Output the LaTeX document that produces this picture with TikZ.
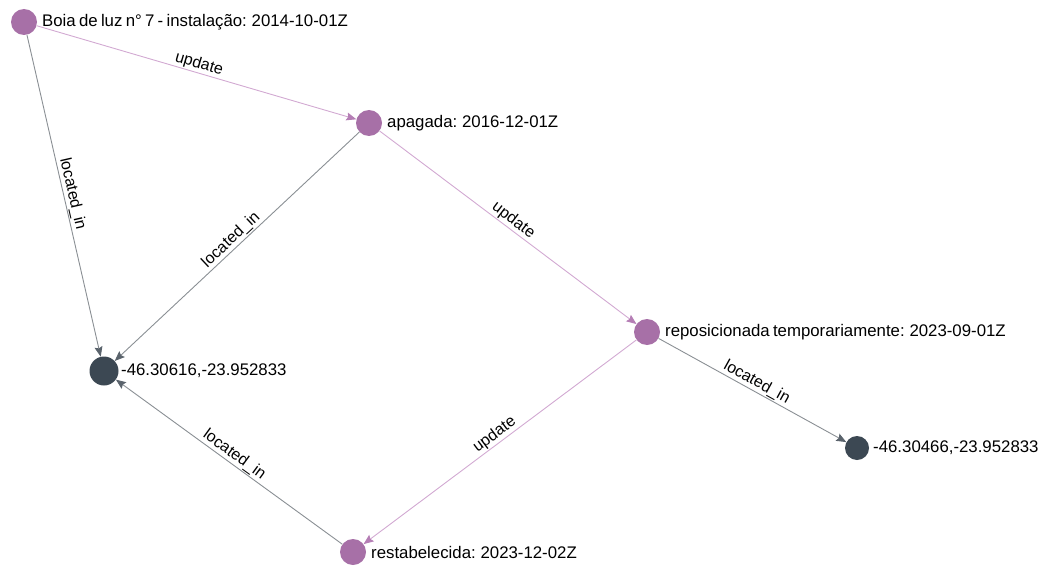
\documentclass[tikz,border=0pt]{standalone}
\usepackage{fontspec}
\setmainfont[WordSpace=0.7]{Liberation Sans}
\usetikzlibrary{arrows.meta}
\definecolor{evt}{HTML}{A770A7}
\definecolor{loc}{HTML}{3C4853}
\definecolor{updline}{HTML}{D2A9D2}
\definecolor{updtip}{HTML}{B57EB5}
\definecolor{locline}{HTML}{8A8F94}
\definecolor{loctip}{HTML}{5A636C}
\tikzset{
  event/.style={circle, fill=evt, minimum size=26pt, inner sep=0pt},
  place/.style={circle, fill=loc, minimum size=26pt, inner sep=0pt},
  nodetext/.style={anchor=west, inner sep=0pt, font=\fontsize{16.8}{19}\selectfont},
  updedge/.style={draw=updline, line width=0.9pt,
    -{Stealth[length=10pt, width=8pt, inset=1.5pt, color=updtip]}},
  locedge/.style={draw=locline, line width=0.9pt,
    -{Stealth[length=10pt, width=8pt, inset=1.5pt, color=loctip]}},
  elabel/.style={midway, sloped, above, inner sep=1pt, font=\fontsize{16}{19}\selectfont}
}
\begin{document}
\begin{tikzpicture}[x=1pt, y=-1pt]
  \useasboundingbox (0,0) rectangle (1048,567);

  % event nodes
  \node[event] (boia) at (24,22) {};
  \node[event] (apag) at (369,123) {};
  \node[event] (repo) at (647,332) {};
  \node[event] (rest) at (353,552) {};
  % location nodes
  \node[place, minimum size=29pt] (p1) at (104,371) {};
  \node[place, minimum size=24pt] (p2) at (857,448) {};

  % labels
  \node[nodetext] (tboia) at (42,22) {Boia de luz n° 7 - instalação: 2014-10-01Z};
  \node[nodetext] (tapag) at (387,123) {apagada: 2016-12-01Z};
  \node[nodetext] (trepo) at (665,332) {reposicionada temporariamente: 2023-09-01Z};
  \node[nodetext] (trest) at (371,552) {restabelecida: 2023-12-02Z};
  \node[nodetext] (tp1) at (121,371) {-46.30616,-23.952833};
  \node[nodetext] (tp2) at (873,448) {-46.30466,-23.952833};

  % connectors
  \draw[updedge] (boia) -- node[elabel] {update} (apag);
  \draw[locedge] (boia) -- node[elabel] {located\_in} (p1);
  \draw[locedge] (apag) -- node[elabel] {located\_in} (p1);
  \draw[updedge] (apag) -- node[elabel] {update} (repo);
  \draw[locedge] (repo) -- node[elabel] {located\_in} (p2);
  \draw[updedge] (repo) -- node[elabel] {update} (rest);
  \draw[locedge] (rest) -- node[elabel] {located\_in} (p1);
\end{tikzpicture}
\end{document}
